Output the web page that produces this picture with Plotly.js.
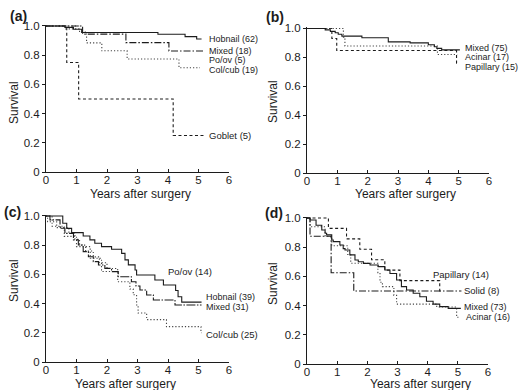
<!DOCTYPE html>
<html><head><meta charset="utf-8">
<script src="https://cdn.plot.ly/plotly-3.0.1.min.js"></script>
<style>html,body{margin:0;padding:0;background:#fff}#chart{width:520px;height:390px}</style>
</head><body><div id="chart"></div>
<script>
// ---- Panel (a) ----
const a_hob_t = [0, 0.62, 0.9, 1.17, 3.67, 4.56, 4.94, 5.1];
const a_hob_s = [1.0, 0.99, 0.977, 0.955, 0.943, 0.927, 0.911, 0.911];
const a_mix_t = [0, 1.2, 2.62, 4.03, 5.15];
const a_mix_s = [1.0, 0.944, 0.886, 0.829, 0.829];
const a_po_t = [0, 1.1];
const a_po_s = [1.0, 1.0];
const a_col_t = [0, 0.65, 1.1, 1.33, 1.83, 2.66, 4.36, 5.05];
const a_col_s = [1.0, 0.98, 0.958, 0.884, 0.83, 0.774, 0.714, 0.714];
const a_gob_t = [0, 0.68, 1.07, 4.17, 5.18];
const a_gob_s = [1.0, 0.75, 0.5, 0.25, 0.25];
// ---- Panel (b) ----
const b_mix_t = [0, 0.6, 0.77, 0.93, 1.03, 1.15, 1.81, 2.68, 3.4, 4.0, 4.2, 4.28, 4.44, 5.04];
const b_mix_s = [1.0, 0.99, 0.98, 0.97, 0.96, 0.947, 0.936, 0.907, 0.9, 0.887, 0.873, 0.862, 0.852, 0.852];
const b_aci_t = [0, 1.2, 1.25, 4.3, 4.95];
const b_aci_s = [1.0, 0.94, 0.879, 0.82, 0.82];
const b_pap_t = [0, 0.82, 0.98, 4.93, 5.0];
const b_pap_s = [1.0, 0.93, 0.847, 0.76, 0.76];
// ---- Panel (c) ----
const c_hob_t = [0, 0.55, 0.68, 0.84, 1.22, 1.44, 1.6, 1.82, 2.15, 2.48, 2.59, 2.7, 2.92, 2.97, 3.57, 3.85, 4.25, 4.33, 4.45, 5.1];
const c_hob_s = [1.0, 0.95, 0.915, 0.886, 0.863, 0.836, 0.813, 0.79, 0.772, 0.744, 0.699, 0.665, 0.63, 0.596, 0.562, 0.527, 0.49, 0.447, 0.41, 0.41];
const c_mix_t = [0, 0.13, 0.46, 0.62, 0.9, 1.06, 1.22, 1.39, 1.55, 1.72, 1.93, 2.15, 2.37, 2.8, 2.95, 3.08, 3.3, 3.52, 4.23, 5.1];
const c_mix_s = [1.0, 0.973, 0.916, 0.881, 0.836, 0.801, 0.756, 0.721, 0.687, 0.664, 0.641, 0.619, 0.584, 0.55, 0.52, 0.493, 0.459, 0.425, 0.39, 0.39];
const c_po_t = [0, 0.2, 0.6, 1.0, 1.45, 1.82, 2.3];
const c_po_s = [1.0, 0.93, 0.86, 0.79, 0.71, 0.62, 0.62];
const c_col_t = [0, 0.05, 0.35, 0.75, 0.95, 1.1, 1.3, 1.55, 1.75, 2.0, 2.35, 2.75, 2.86, 2.97, 3.02, 3.3, 3.95, 5.08, 5.1];
const c_col_s = [1.0, 0.96, 0.92, 0.88, 0.84, 0.8, 0.76, 0.72, 0.68, 0.64, 0.55, 0.5, 0.46, 0.39, 0.336, 0.29, 0.242, 0.2, 0.2];
// ---- Panel (d) ----
const d_mix_t = [0, 0.1, 0.3, 0.49, 0.6, 0.65, 0.82, 0.87, 1.09, 1.2, 1.26, 1.42, 1.59, 1.7, 1.87, 2.09, 2.36, 2.58, 2.75, 2.97, 3.13, 3.3, 3.52, 3.74, 3.96, 4.18, 4.4, 4.68, 5.1];
const d_mix_s = [1.0, 0.986, 0.95, 0.918, 0.895, 0.884, 0.849, 0.838, 0.815, 0.79, 0.781, 0.747, 0.712, 0.7, 0.689, 0.678, 0.667, 0.644, 0.62, 0.575, 0.53, 0.507, 0.484, 0.46, 0.43, 0.41, 0.393, 0.381, 0.381];
const d_pap_t = [0, 0.71, 1.31, 1.75, 2.14, 2.58, 3.08, 4.4, 4.45];
const d_pap_s = [1.0, 0.929, 0.857, 0.786, 0.714, 0.643, 0.571, 0.5, 0.5];
const d_sol_t = [0, 0.1, 0.8, 1.55, 5.12];
const d_sol_s = [1.0, 0.875, 0.625, 0.5, 0.5];
const d_aci_t = [0, 0.1, 0.6, 0.82, 1.35, 1.45, 2.35, 2.42, 2.5, 2.88, 2.97, 4.3, 4.96, 5.02];
const d_aci_s = [1.0, 0.94, 0.875, 0.81, 0.75, 0.69, 0.625, 0.56, 0.53, 0.47, 0.41, 0.39, 0.32, 0.32];

// tick labels
const xTicks = [0, 1, 2, 3, 4, 5, 6];
const yTickVals = [0, 0.2, 0.4, 0.6, 0.8, 1.0];
const yTickText = ['0', '0.2', '0.4', '0.6', '0.8', '1.0'];
const xTitle = 'Years after surgery';
const yTitle = 'Survival';

const INK = '#1c1c1c';
const SOLID = 'solid', DASHDOT = '7px,2px,1.5px,2px', DOT = '1.2px,2px', DASH = '3px,2.5px';

function tr(t, s, ax, dash, color, w) {
  return {x: t, y: s, xaxis: ax.x, yaxis: ax.y, type: 'scatter', mode: 'lines',
    line: {shape: 'hv', color: color || INK, width: w || 1.1, dash: dash},
    showlegend: false, hoverinfo: 'skip'};
}
const A = {x: 'x', y: 'y'}, B = {x: 'x2', y: 'y2'}, C = {x: 'x3', y: 'y3'}, D = {x: 'x4', y: 'y4'};

const data = [
  tr(a_gob_t, a_gob_s, A, DASH),
  tr(a_col_t, a_col_s, A, DOT, '#444'),
  tr(a_po_t, a_po_s, A, DOT, '#444'),
  tr(a_mix_t, a_mix_s, A, DASHDOT),
  tr(a_hob_t, a_hob_s, A, SOLID),
  tr(b_pap_t, b_pap_s, B, DASH),
  tr(b_aci_t, b_aci_s, B, DOT, '#444'),
  tr(b_mix_t, b_mix_s, B, SOLID),
  tr(c_col_t, c_col_s, C, DOT, '#444'),
  tr(c_po_t, c_po_s, C, DOT, '#444'),
  tr(c_mix_t, c_mix_s, C, '9px,1.5px,1.5px,1.5px'),
  tr(c_hob_t, c_hob_s, C, SOLID),
  tr(d_aci_t, d_aci_s, D, DOT, '#444'),
  tr(d_sol_t, d_sol_s, D, DASHDOT),
  tr(d_pap_t, d_pap_s, D, DASH),
  tr(d_mix_t, d_mix_s, D, SOLID)
];

const W = 520, H = 390;
const FONT = 'Liberation Sans, Arial, sans-serif';
function xax(x0, x1, anchor) {
  return {domain: [x0 / W, x1 / W], range: [0, 6], anchor: anchor, tickvals: xTicks,
    showline: true, linecolor: INK, linewidth: 1, ticks: 'inside', ticklen: 3, tickcolor: INK,
    ticklabelstandoff: -3,
    showgrid: false, zeroline: false, tickfont: {family: FONT, size: 11.5, color: INK}, fixedrange: true};
}
function yax(y0px, y1px, anchor) {
  return {domain: [1 - y0px / H, 1 - y1px / H], range: [0, 1.01], anchor: anchor,
    tickvals: yTickVals, ticktext: yTickText,
    showline: true, linecolor: INK, linewidth: 1, ticks: 'outside', ticklen: 3, tickcolor: INK,
    showgrid: false, zeroline: false, tickfont: {family: FONT, size: 11.5, color: INK}, fixedrange: true};
}

function lab(text, ax, x, y, size) {
  return {text: text, xref: ax.x, yref: ax.y, x: x, y: y, xanchor: 'left', yanchor: 'middle',
    showarrow: false, borderpad: 0, font: {family: FONT, size: size || 9.5, color: INK}};
}
function pap(text, px, py, opts) {
  return Object.assign({text: text, xref: 'paper', yref: 'paper', x: px / W, y: 1 - py / H,
    xanchor: 'center', yanchor: 'middle', showarrow: false, borderpad: 0,
    font: {family: FONT, size: 12, color: INK}}, opts || {});
}
const bold = {font: {family: FONT, size: 14, color: INK}};

const annotations = [
  // curve labels (a)
  lab('Hobnail (62)', A, 5.31, 0.912, 9), lab('Mixed (18)', A, 5.31, 0.832, 9),
  lab('Po/ov (5)', A, 5.31, 0.764, 9), lab('Col/cub (19)', A, 5.31, 0.696, 9),
  lab('Goblet (5)', A, 5.31, 0.247),
  // (b)
  lab('Mixed (75)', B, 5.17, 0.866, 9), lab('Acinar (17)', B, 5.17, 0.8, 9), lab('Papillary (15)', B, 5.17, 0.734, 9),
  // (c)
  lab('Po/ov (14)', C, 3.96, 0.623), lab('Hobnail (39)', C, 5.21, 0.443, 9),
  lab('Mixed (31)', C, 5.21, 0.375, 9), lab('Col/cub (25)', C, 5.21, 0.185),
  // (d)
  lab('Papillary (14)', D, 4.13, 0.61), lab('Solid (8)', D, 5.18, 0.502),
  lab('Mixed (73)', D, 5.18, 0.39, 9), lab('Acinar (16)', D, 5.24, 0.322, 9),
  // panel letters
  pap('<b>(a)</b>', 18, 16, bold), pap('<b>(b)</b>', 275, 17, bold),
  pap('<b>(c)</b>', 12, 212, bold), pap('<b>(d)</b>', 274, 213, bold),
  // axis titles
  pap(yTitle, 14, 103, {textangle: -90}), pap(yTitle, 273, 102, {textangle: -90}),
  pap(yTitle, 14, 281, {textangle: -90}), pap(yTitle, 273, 284, {textangle: -90}),
  pap(xTitle, 140, 194), pap(xTitle, 405, 194),
  pap(xTitle, 125, 384), pap(xTitle, 420, 384)
];

const layout = {
  width: W, height: H, margin: {l: 0, r: 0, t: 0, b: 0},
  paper_bgcolor: '#fff', plot_bgcolor: 'rgba(0,0,0,0)',
  font: {family: FONT, color: INK},
  xaxis: xax(46, 229, 'y'), yaxis: yax(172, 24.5, 'x'),
  xaxis2: xax(307, 489, 'y2'), yaxis2: yax(173, 27, 'x2'),
  xaxis3: xax(46, 229, 'y3'), yaxis3: yax(362, 214.5, 'x3'),
  xaxis4: xax(307, 488, 'y4'), yaxis4: yax(364, 216.5, 'x4'),
  annotations: annotations
};
Plotly.newPlot('chart', data, layout, {staticPlot: true, displayModeBar: false});
</script></body></html>
